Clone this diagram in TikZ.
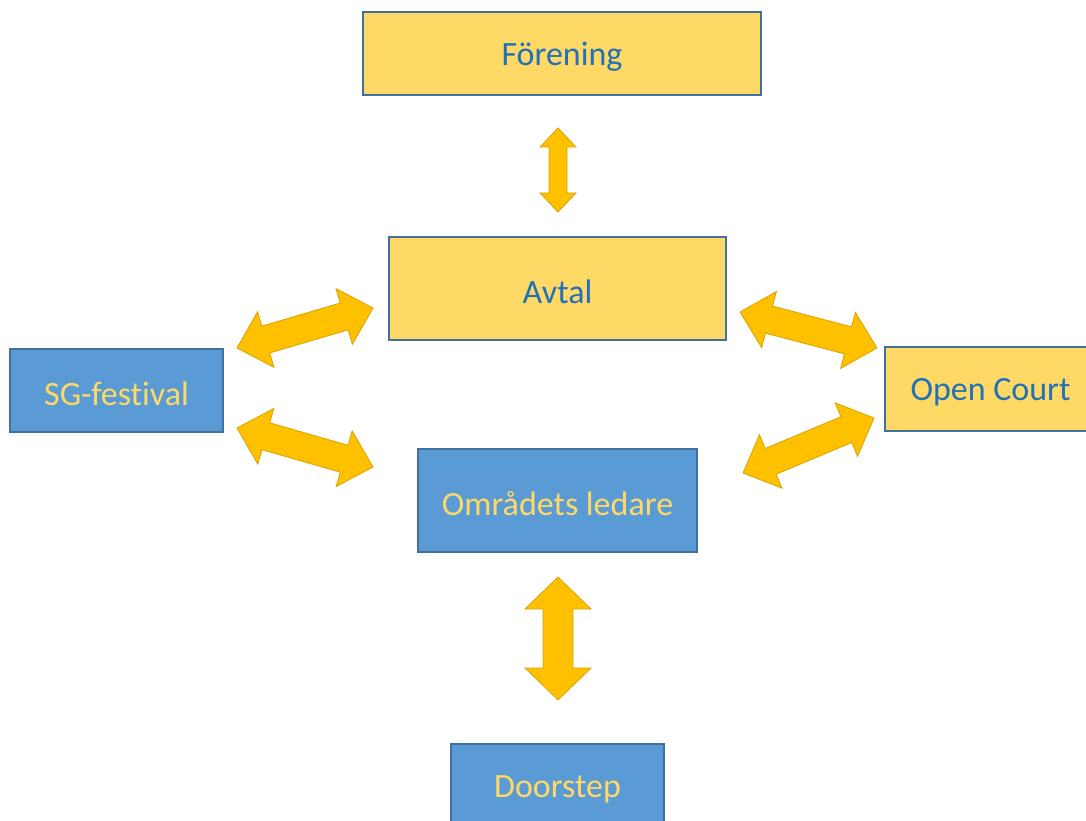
\documentclass[tikz,border=0pt]{standalone}
\usepackage{fontspec}
\setmainfont[Ligatures=NoCommon]{Carlito}
\usetikzlibrary{calc}
\definecolor{boxyellow}{HTML}{FFD966}
\definecolor{boxblue}{HTML}{5B9BD5}
\definecolor{edgeblue}{HTML}{41719C}
\definecolor{textblue}{HTML}{2270B8}
\definecolor{arrowfill}{HTML}{FFC000}
\definecolor{arrowedge}{HTML}{D9A400}
\tikzset{
  box/.style={draw=edgeblue, line width=1.2pt, inner sep=0pt, font=\fontsize{34}{40}\selectfont},
  ybox/.style={box, fill=boxyellow, text=textblue},
  bbox/.style={box, fill=boxblue, text=boxyellow},
  blockarrow/.style={fill=arrowfill, draw=arrowedge, line width=0.8pt, line join=miter}
}
% #1 from, #2 to, #3 shaft half width, #4 head half width, #5 head length
\newcommand\dblarrow[5]{%
  \draw[blockarrow] (#1)
   -- ($(#1)!#5!(#2)!#4!90:(#2)$)
   -- ($(#1)!#5!(#2)!#3!90:(#2)$)
   -- ($(#2)!#5!(#1)!#3!-90:(#1)$)
   -- ($(#2)!#5!(#1)!#4!-90:(#1)$)
   -- (#2)
   -- ($(#2)!#5!(#1)!#4!90:(#1)$)
   -- ($(#2)!#5!(#1)!#3!90:(#1)$)
   -- ($(#1)!#5!(#2)!#3!-90:(#2)$)
   -- ($(#1)!#5!(#2)!#4!-90:(#2)$)
   -- cycle;}
\newcommand\boxlabel[1]{\raisebox{-3pt}[\height][\depth]{#1}}
\begin{document}
\begin{tikzpicture}[x=1pt,y=-1pt]
\clip (0,0) rectangle (1086,821);
\fill[white] (0,0) rectangle (1086,821);

\node[ybox, minimum width=398pt, minimum height=83pt] (forening) at (562,53.5) {\boxlabel{Förening}};
\node[ybox, minimum width=337pt, minimum height=103pt] (avtal) at (557.5,288.5) {\boxlabel{Avtal}};
\node[bbox, minimum width=213pt, minimum height=83pt] (sg) at (116.5,390.5) {\boxlabel{SG-festival}};
\node[ybox, minimum width=211pt, minimum height=84pt] (open) at (990.5,389) {\boxlabel{Open Court}};
\node[bbox, minimum width=279pt, minimum height=103pt] (omr) at (557.5,500.5) {\boxlabel{Områdets ledare}};
\node[bbox, minimum width=213pt, minimum height=84pt] (door) at (557.5,786) {\boxlabel{Doorstep}};

\coordinate (tA) at (558,128);  \coordinate (tB) at (558,212);
\coordinate (bA) at (558,577);  \coordinate (bB) at (558,700);
\coordinate (ulA) at (237,348); \coordinate (ulB) at (373,308);
\coordinate (llA) at (237,428); \coordinate (llB) at (373,467);
\coordinate (urA) at (740,312); \coordinate (urB) at (877,348);
\coordinate (lrA) at (743,473); \coordinate (lrB) at (874,418);

\dblarrow{tA}{tB}{9pt}{18pt}{19pt}
\dblarrow{bA}{bB}{15pt}{33pt}{32pt}
\dblarrow{ulA}{ulB}{14pt}{29pt}{30pt}
\dblarrow{llA}{llB}{14pt}{29pt}{30pt}
\dblarrow{urA}{urB}{14pt}{29pt}{30pt}
\dblarrow{lrA}{lrB}{14pt}{29pt}{30pt}
\end{tikzpicture}
\end{document}
